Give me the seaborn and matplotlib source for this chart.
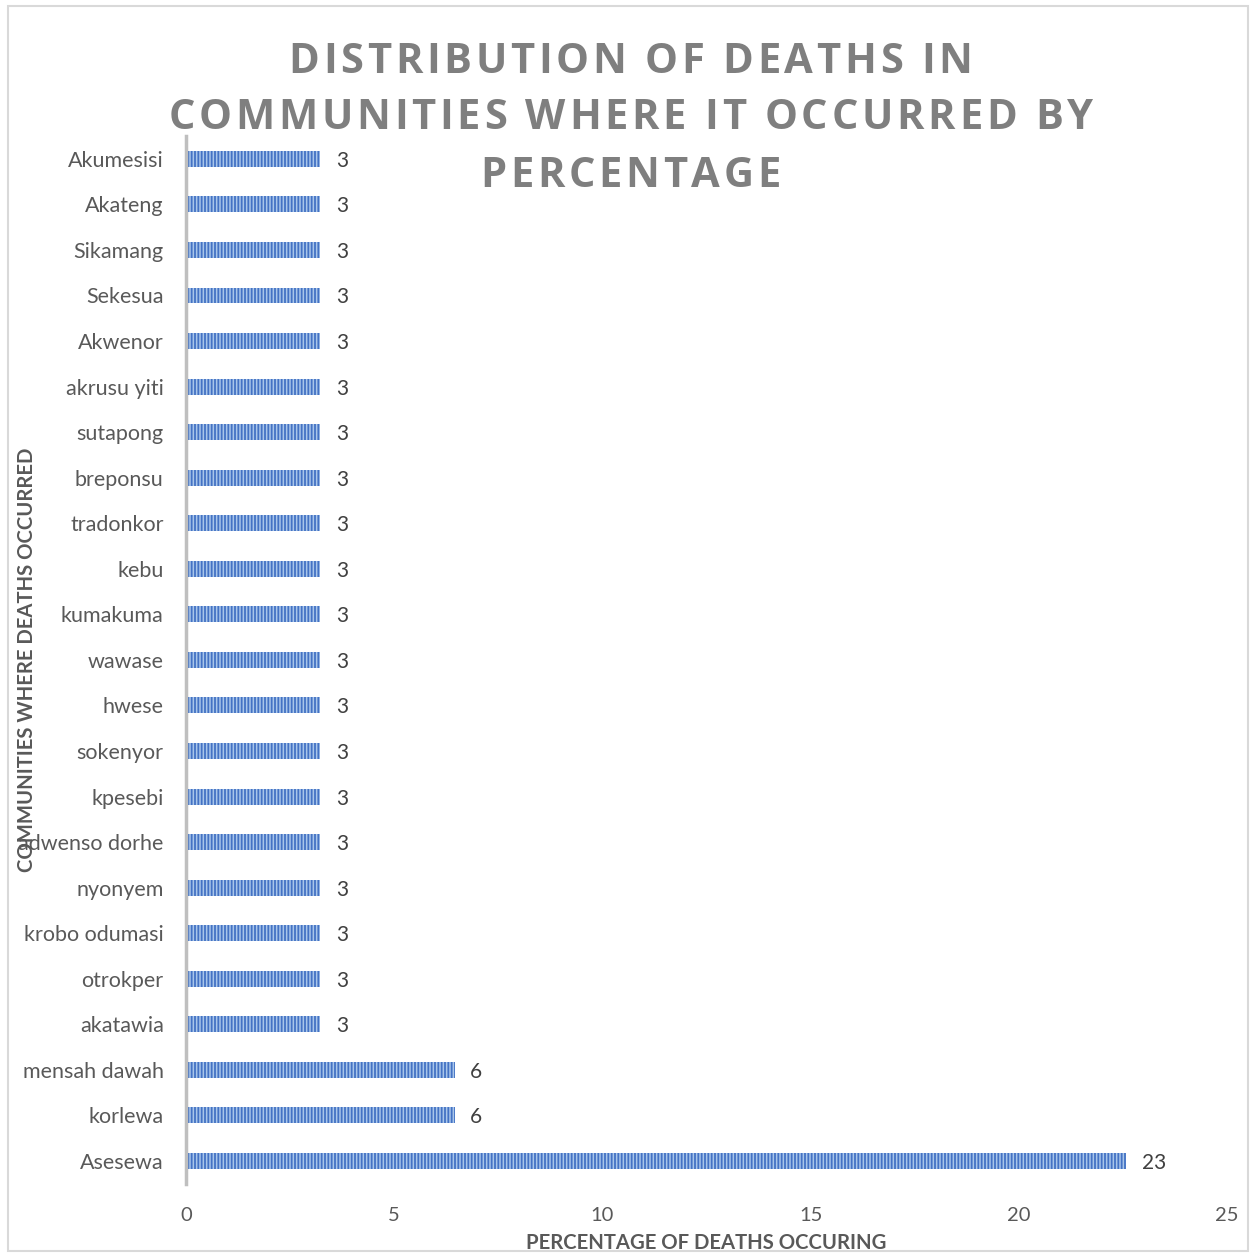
import matplotlib
matplotlib.use("Agg")
import matplotlib.pyplot as plt
import seaborn as sns
import pandas as pd
from matplotlib.patches import Rectangle
from matplotlib.font_manager import FontProperties

communities = ["Akumesisi", "Akateng", "Sikamang", "Sekesua", "Akwenor", "akrusu yiti",
               "sutapong", "breponsu", "tradonkor", "kebu", "kumakuma", "wawase", "hwese",
               "sokenyor", "kpesebi", "adwenso dorhe", "nyonyem", "krobo odumasi", "otrokper",
               "akatawia", "mensah dawah", "korlewa", "Asesewa"]
percent = [3.23] * 20 + [6.45, 6.45, 22.58]
xticks = [0, 5, 10, 15, 20, 25]
title_lines = ["DISTRIBUTION OF DEATHS IN", "COMMUNITIES WHERE IT OCCURRED BY", "PERCENTAGE"]

df = pd.DataFrame({"community": communities, "percent": percent})

sns.set_theme(style="white")
plt.rcParams['font.family'] = ['Lato', 'DejaVu Sans']
plt.rcParams['hatch.linewidth'] = 1.3
plt.rcParams['hatch.color'] = '#4472c4'

fig = plt.figure(figsize=(12.56, 12.54), dpi=100)
ax = fig.add_axes([0.148, 0.056, 0.829, 0.8355])

sns.barplot(data=df, x="percent", y="community", order=communities, orient="h",
            color="#a9c6ea", width=0.35, ax=ax, saturation=1)
for p in ax.patches:
    p.set_hatch("|||||")
    p.set_edgecolor("#4472c4")
    p.set_linewidth(0)

for c in ax.containers:
    labs = ax.bar_label(c, fmt="%.0f", padding=11, fontsize=15, color="#404040")
    for t in labs:
        t.set_va("center_baseline")

ax.set_xlim(0, 25)
ax.set_ylim(22.5, -0.5)
ax.set_xticks(xticks)
ax.set_xticklabels([str(t) for t in xticks])
ax.tick_params(axis="x", labelsize=14.5, labelcolor="#595959", length=0, pad=17)
ax.tick_params(axis="y", labelsize=15.5, labelcolor="#595959", length=0, pad=16)

for s in ["top", "right", "bottom"]:
    ax.spines[s].set_visible(False)
ax.spines["left"].set_color("#bfbfbf")
ax.spines["left"].set_linewidth(2.5)

ax.set_xlabel("PERCENTAGE OF DEATHS OCCURING", fontsize=14.6, fontweight="bold",
              color="#595959")
ax.set_ylabel("COMMUNITIES WHERE DEATHS OCCURRED", fontsize=14.6, fontweight="bold",
              color="#595959")
ax.yaxis.set_label_coords(-0.143, 0.5)
ax.xaxis.set_label_coords(0.5, -0.047)

# Title with letter spacing, drawn character by character
renderer = fig.canvas.get_renderer()
prop = FontProperties(family=["Open Sans", "DejaVu Sans"], weight="bold", size=30)
spacing_px = 3.7
W, H = fig.bbox.width, fig.bbox.height
baselines = [0.9418, 0.8971, 0.8509]
for line, yb in zip(title_lines, baselines):
    widths = [renderer.get_text_width_height_descent(ch, prop, ismath=False)[0]
              if ch != " " else renderer.get_text_width_height_descent("a a", prop, ismath=False)[0]
              - renderer.get_text_width_height_descent("aa", prop, ismath=False)[0]
              for ch in line]
    total = sum(widths) + spacing_px * (len(line) - 1)
    x = 0.502 * W - total / 2
    for ch, w in zip(line, widths):
        if ch != " ":
            fig.text(x / W, yb, ch, ha="left", va="baseline", fontproperties=prop,
                     color="#7f7f7f")
        x += w + spacing_px

fig.add_artist(Rectangle((0.006, 0.002), 0.988, 0.993, transform=fig.transFigure,
                         fill=False, edgecolor="#d9d9d9", linewidth=1.5))

fig.savefig("out.png", dpi=100)
